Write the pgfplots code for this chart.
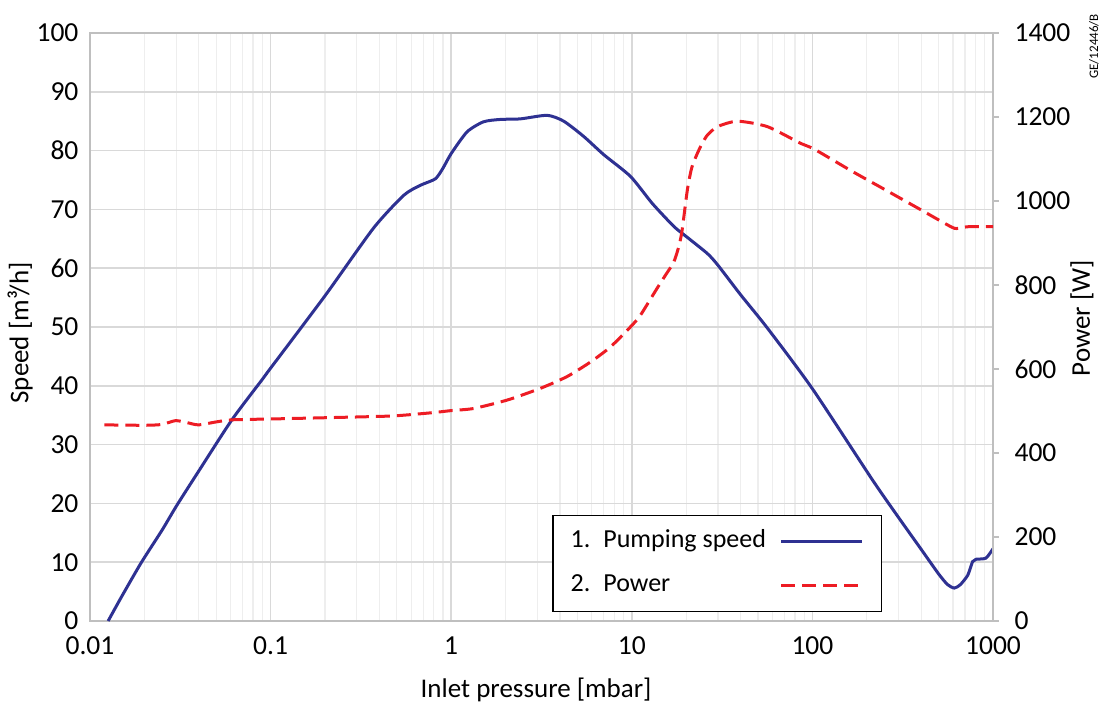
\documentclass[border=0pt]{standalone}
\usepackage{pgfplots}
\pgfplotsset{compat=1.18}
\usepackage{fontspec}
\setmainfont{Carlito}
\definecolor{speedblue}{HTML}{2E3192}
\definecolor{powerred}{HTML}{ED1C24}
\definecolor{gridmajor}{HTML}{D9D9D9}
\definecolor{gridminor}{HTML}{EEEEEE}
\definecolor{axisgray}{HTML}{BFBFBF}

\pgfplotstableread{
x y
0.0126 0
0.015 4.2
0.0192 9.9
0.025 15.4
0.0303 19.7
0.04 25.5
0.061 34.2
0.0895 41
0.1 43
0.2 55.3
0.371 66.8
0.546 72.4
0.675 74.1
0.817 75.2
0.9 77
1.0 79.5
1.225 83.2
1.51 84.9
1.87 85.3
2.42 85.4
3.4 86.0
4.2 85
5.42 82.4
7 79.3
9.84 75.6
13 71
17.1 67.1
20 65.4
26.2 62.5
30 60.5
40 55.5
56.4 49.8
100 39.5
215 24
300 17.6
400 12.2
500 8
560 6.2
611 5.6
660 6.2
725 7.8
771 10.1
805 10.5
914 10.7
1000 12.3
}\speedtable

\pgfplotstableread{
x y
0.012 467
0.02 466
0.025 468
0.0297 477
0.034 473
0.0398 467
0.05 474
0.061 479
0.1 481
0.2 484
0.46 488
0.7 494
0.87 498
1.0 501
1.33 506
2.04 526
3.12 554
4.38 582
5.92 617
7.64 653
10.07 705
11.2 729
13.8 792
15.5 826
17.1 855
18.3 895
19.0 931
20.3 1026
21.5 1080
23.5 1121
26 1155
29.8 1177
38.5 1190
56.4 1177
86.3 1137
100 1126
167 1070
250 1028
399 979
500 955
611 935
680 937
739 939
1000 939
}\powertable

\begin{document}
\begin{tikzpicture}
\useasboundingbox (-45pt,-44pt) rectangle (508pt,310.5pt);
\begin{axis}[
  scale only axis, width=451.5pt, height=294pt,
  xmode=log, xmin=0.01, xmax=1000,
  ymin=0, ymax=100, ytick={0,10,...,100},
  xtick={0.01,0.1,1,10,100,1000},
  xticklabels={0.01,0.1,1,10,100,1000},
  grid=both, xminorgrids=true, yminorgrids=false,
  major grid style={draw=gridmajor, line width=0.8pt},
  minor grid style={draw=gridminor, line width=0.6pt},
  axis line style={draw=axisgray, line width=0.9pt},
  major tick length=0pt, minor tick length=0pt,
  ticklabel style={font=\fontsize{13.75}{16}\selectfont, inner sep=1pt},
  /pgf/number format/assume math mode=true,
  /pgf/number format/1000 sep={},
  xticklabel style={yshift=-6.6pt},
  yticklabel style={xshift=-4.6pt},
  xlabel={Inlet pressure [mbar]},
  ylabel={Speed [m³/h]},
  label style={font=\fontsize{13.5}{16}\selectfont},
  xlabel style={at={(axis description cs:0.494,-0.117)}, anchor=center},
  ylabel style={at={(axis description cs:-0.0775,0.49)}, anchor=center},
]
\addplot[speedblue, line width=1.5pt, smooth, tension=0.4] table[x=x,y=y] {\speedtable};
\end{axis}
\begin{axis}[
  scale only axis, width=451.5pt, height=294pt,
  xmode=log, xmin=0.01, xmax=1000,
  ymin=0, ymax=1400, ytick={0,200,...,1400},
  axis x line=none, axis y line*=right,
  clip=false,
  y axis line style={draw=axisgray, line width=0.9pt},
  tick align=outside, major tick length=3pt,
  ytick style={draw=axisgray, line width=0.9pt},
  ticklabel style={font=\fontsize{13.75}{16}\selectfont, inner sep=1pt},
  /pgf/number format/assume math mode=true,
  /pgf/number format/1000 sep={},
  yticklabel style={xshift=6.6pt},
  ylabel={Power [W]},
  label style={font=\fontsize{13.5}{16}\selectfont},
  ylabel style={at={(axis description cs:1.0985,0.515)}, anchor=center},
  legend plot pos=right,
  legend cell align=left,
  legend image code/.code={\draw[#1] (0pt,0pt) -- (40.5pt,0pt);},
  legend style={at={(0.8774,0.0148)}, anchor=south east, draw=black, line width=0.9pt,
    fill=white, font=\fontsize{13}{15}\selectfont,
    inner xsep=8.7pt, inner ysep=7pt, row sep=10pt, column sep=7pt,
    nodes={inner sep=0pt, text height=9pt, text depth=3pt}},
]
\addlegendimage{speedblue, line width=1.5pt}
\addlegendentry{1.\enspace Pumping speed}
\addplot[powerred, line width=1.5pt, dash pattern=on 7pt off 3.5pt, smooth, tension=0.4] table[x=x,y=y] {\powertable};
\addlegendentry{2.\enspace Power}
\node[rotate=90, anchor=east, font=\fontsize{6.5}{8}\selectfont] at (rel axis cs:1.1118,1.0442) {GE/12446/B};
\end{axis}
\end{tikzpicture}
\end{document}
